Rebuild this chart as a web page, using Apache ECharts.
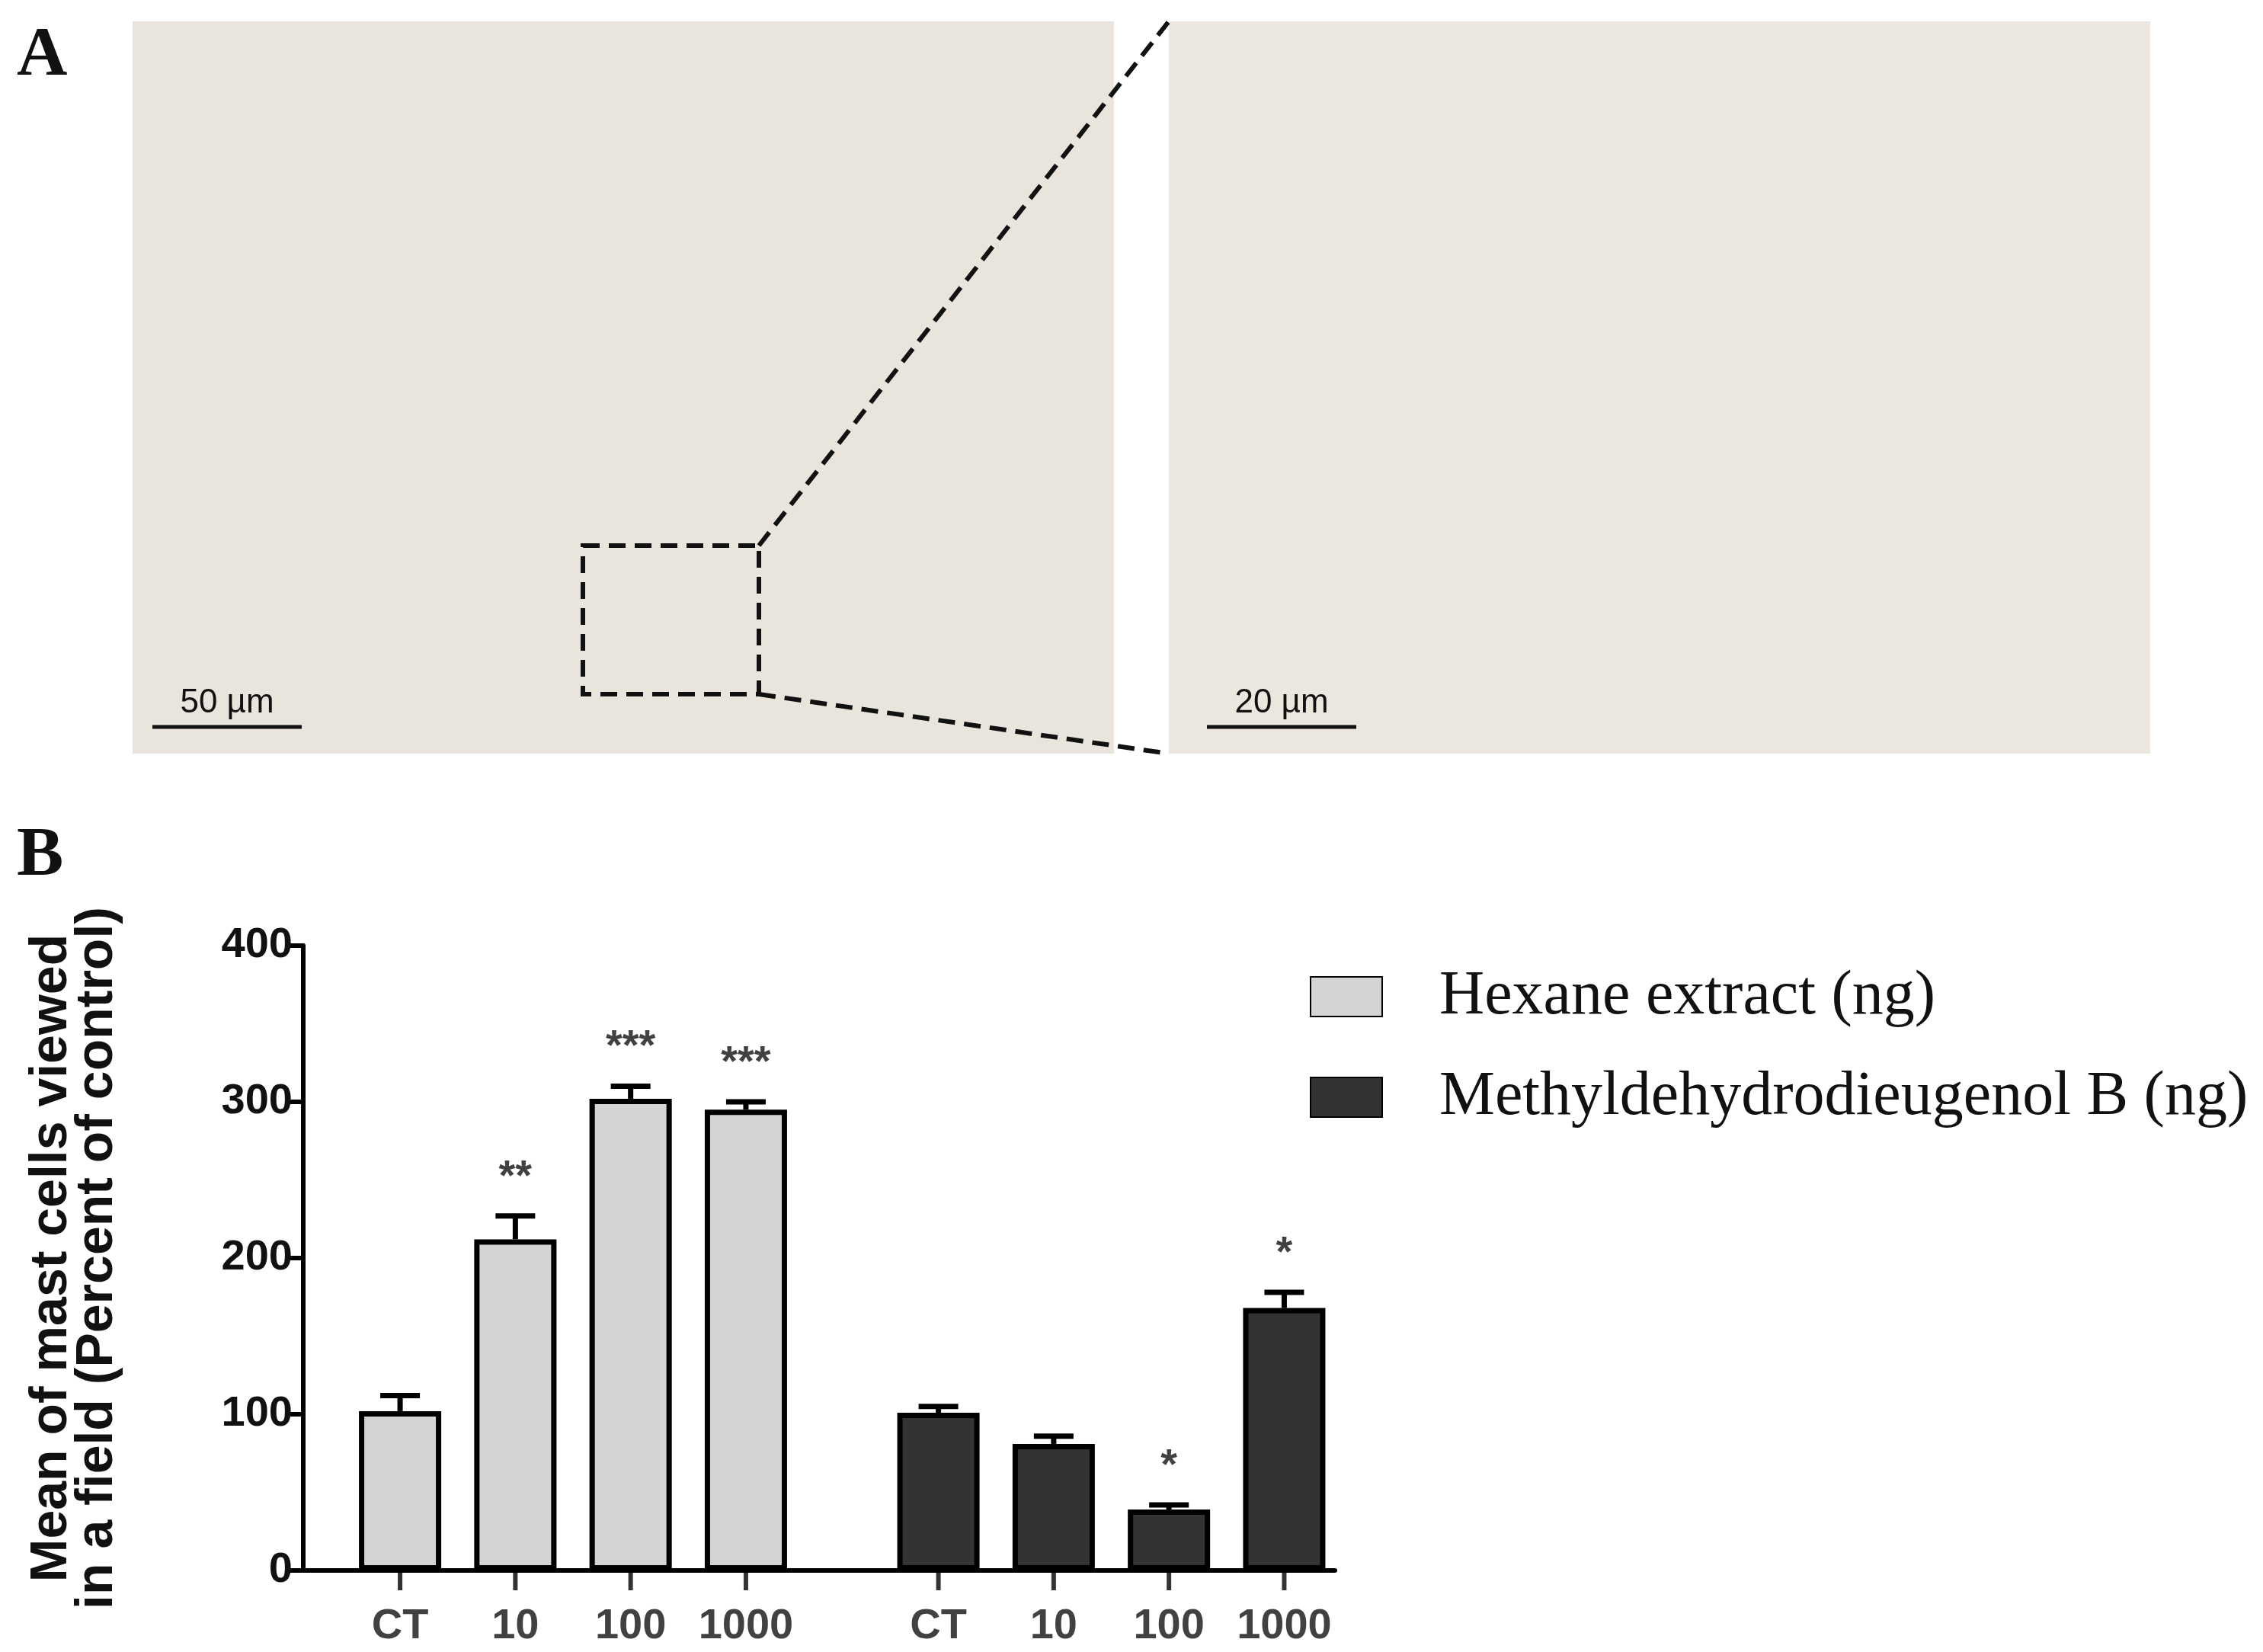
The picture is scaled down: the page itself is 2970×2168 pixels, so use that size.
<!DOCTYPE html>
<html><head><meta charset="utf-8">
<script src="https://cdn.jsdelivr.net/npm/echarts@6/dist/echarts.min.js"></script>
<style>html,body{margin:0;background:#fff}#c{width:2970px;height:2168px}</style>
</head><body><div id="c"></div>
<script>
const categories = ['CT','10','100','1000'];
const hexaneValues = [102, 212, 302, 295];
const hexaneErrors = [10, 15, 8, 5];
const hexaneStars = ['', '**', '***', '***'];
const methylValues = [101, 81, 39, 168];
const methylErrors = [4, 5, 3, 10];
const methylStars = ['', '', '*', '*'];
const yTicks = [0, 100, 200, 300, 400];
const hexX = [1, 2, 3, 4];
const metX = [5.67, 6.67, 7.67, 8.67];

const chart = echarts.init(document.getElementById('c'));
const barData = (xs, vs) => xs.map((x, i) => [x, vs[i]]);
const errData = (xs, vs, es) => xs.map((x, i) => [x, vs[i], es[i]]);
const starData = (xs, vs, es, ss) => xs.map((x, i) => ({value: [x, vs[i] + es[i]], name: ss[i]}));
function errRender(params, api) {
  const x = api.value(0), v = api.value(1), e = api.value(2);
  const p0 = api.coord([x, v]), p1 = api.coord([x, v + e]);
  const hw = 26;
  const style = {stroke: '#000', lineWidth: 7};
  return {type: 'group', children: [
    {type: 'line', shape: {x1: p0[0], y1: p0[1], x2: p1[0], y2: p1[1]}, style},
    {type: 'line', shape: {x1: p1[0] - hw, y1: p1[1], x2: p1[0] + hw, y2: p1[1]}, style}
  ]};
}
const starSeries = data => ({type: 'scatter', data, symbolSize: 1, itemStyle: {color: 'rgba(0,0,0,0)'}, silent: true, z: 5,
  label: {show: true, position: 'top', distance: 22, formatter: p => p.name,
    fontFamily: 'Liberation Sans', fontSize: 56, fontWeight: 'bold', color: '#111'}});
const tickData = hexX.concat(metX).map((x, i) => ({value: [x, 0], name: categories[i % 4]}));

chart.setOption({
  animation: false,
  backgroundColor: '#fff',
  grid: {left: 398, top: 1241, right: 1218, bottom: 107, containLabel: false},
  legend: {
    orient: 'vertical', left: 1714, top: 1262, itemWidth: 94, itemHeight: 52, itemGap: 50, icon: 'rect',
    textStyle: {fontFamily: 'Liberation Serif', fontSize: 82, color: '#111', padding: [0, 0, 0, 70]},
    data: ['Hexane extract (ng)', 'Methyldehydrodieugenol B (ng)']
  },
  xAxis: {type: 'value', min: 0.16, max: 9.11, splitLine: {show: false},
    axisLine: {lineStyle: {color: '#000', width: 6}}, axisTick: {show: false}, axisLabel: {show: false}},
  yAxis: {type: 'value', min: 0, max: 400, interval: 100, splitLine: {show: false},
    axisLine: {show: true, lineStyle: {color: '#000', width: 6}},
    axisTick: {show: true, length: 24, lineStyle: {width: 6, color: '#000'}},
    axisLabel: {fontFamily: 'Liberation Sans', fontSize: 56, fontWeight: 'bold', color: '#111', margin: 14,
      formatter: v => yTicks.includes(v) ? String(v) : ''},
    name: 'Mean of mast cells viewed\nin a field (Percent of control)', nameLocation: 'middle', nameGap: 240,
    nameTextStyle: {fontFamily: 'Liberation Sans', fontSize: 68, fontWeight: 'bold', color: '#111', lineHeight: 60}
  },
  series: [
    {name: 'Hexane extract (ng)', type: 'bar', data: barData(hexX, hexaneValues), barWidth: 108, barGap: '-100%',
      itemStyle: {color: '#d4d4d4', borderColor: '#000', borderWidth: 7}, z: 2},
    {name: 'Methyldehydrodieugenol B (ng)', type: 'bar', data: barData(metX, methylValues), barWidth: 108, barGap: '-100%',
      itemStyle: {color: '#333333', borderColor: '#000', borderWidth: 7}, z: 2},
    {type: 'custom', renderItem: errRender, data: errData(hexX, hexaneValues, hexaneErrors), z: 3},
    {type: 'custom', renderItem: errRender, data: errData(metX, methylValues, methylErrors), z: 3},
    starSeries(starData(hexX, hexaneValues, hexaneErrors, hexaneStars)),
    starSeries(starData(metX, methylValues, methylErrors, methylStars)),
    {type: 'scatter', data: tickData, symbol: 'rect', symbolSize: [6, 26], symbolOffset: [0, 13],
      itemStyle: {color: '#000'}, silent: true, z: 4,
      label: {show: true, position: 'bottom', distance: 20, formatter: p => p.name,
        fontFamily: 'Liberation Sans', fontSize: 56, fontWeight: 'bold', color: '#111'}}
  ],
  graphic: [
    {type: 'rect', shape: {x: 174, y: 28, width: 1288, height: 961}, style: {fill: '#e9e4dc'}},
    {type: 'rect', shape: {x: 1534, y: 28, width: 1288, height: 961}, style: {fill: '#ebe7df'}},
    {type: 'rect', shape: {x: 765, y: 716, width: 231, height: 195}, style: {fill: 'none', stroke: '#111', lineWidth: 6, lineDash: [22, 12]}},
    {type: 'line', shape: {x1: 996, y1: 716, x2: 1534, y2: 28}, style: {stroke: '#111', lineWidth: 6, lineDash: [22, 12]}},
    {type: 'line', shape: {x1: 996, y1: 911, x2: 1534, y2: 989}, style: {stroke: '#111', lineWidth: 6, lineDash: [22, 12]}},
    {type: 'line', shape: {x1: 200, y1: 954, x2: 396, y2: 954}, style: {stroke: '#111', lineWidth: 5}},
    {type: 'text', style: {x: 298, y: 945, text: '50 µm', textAlign: 'center', textVerticalAlign: 'bottom', font: '44px "Liberation Sans"', fill: '#111'}},
    {type: 'line', shape: {x1: 1584, y1: 954, x2: 1780, y2: 954}, style: {stroke: '#111', lineWidth: 5}},
    {type: 'text', style: {x: 1682, y: 945, text: '20 µm', textAlign: 'center', textVerticalAlign: 'bottom', font: '44px "Liberation Sans"', fill: '#111'}},
    {type: 'text', style: {x: 22, y: 28, text: 'A', font: 'bold 92px "Liberation Serif"', fill: '#111'}},
    {type: 'text', style: {x: 22, y: 1078, text: 'B', font: 'bold 92px "Liberation Serif"', fill: '#111'}}
  ]
});
</script></body></html>
